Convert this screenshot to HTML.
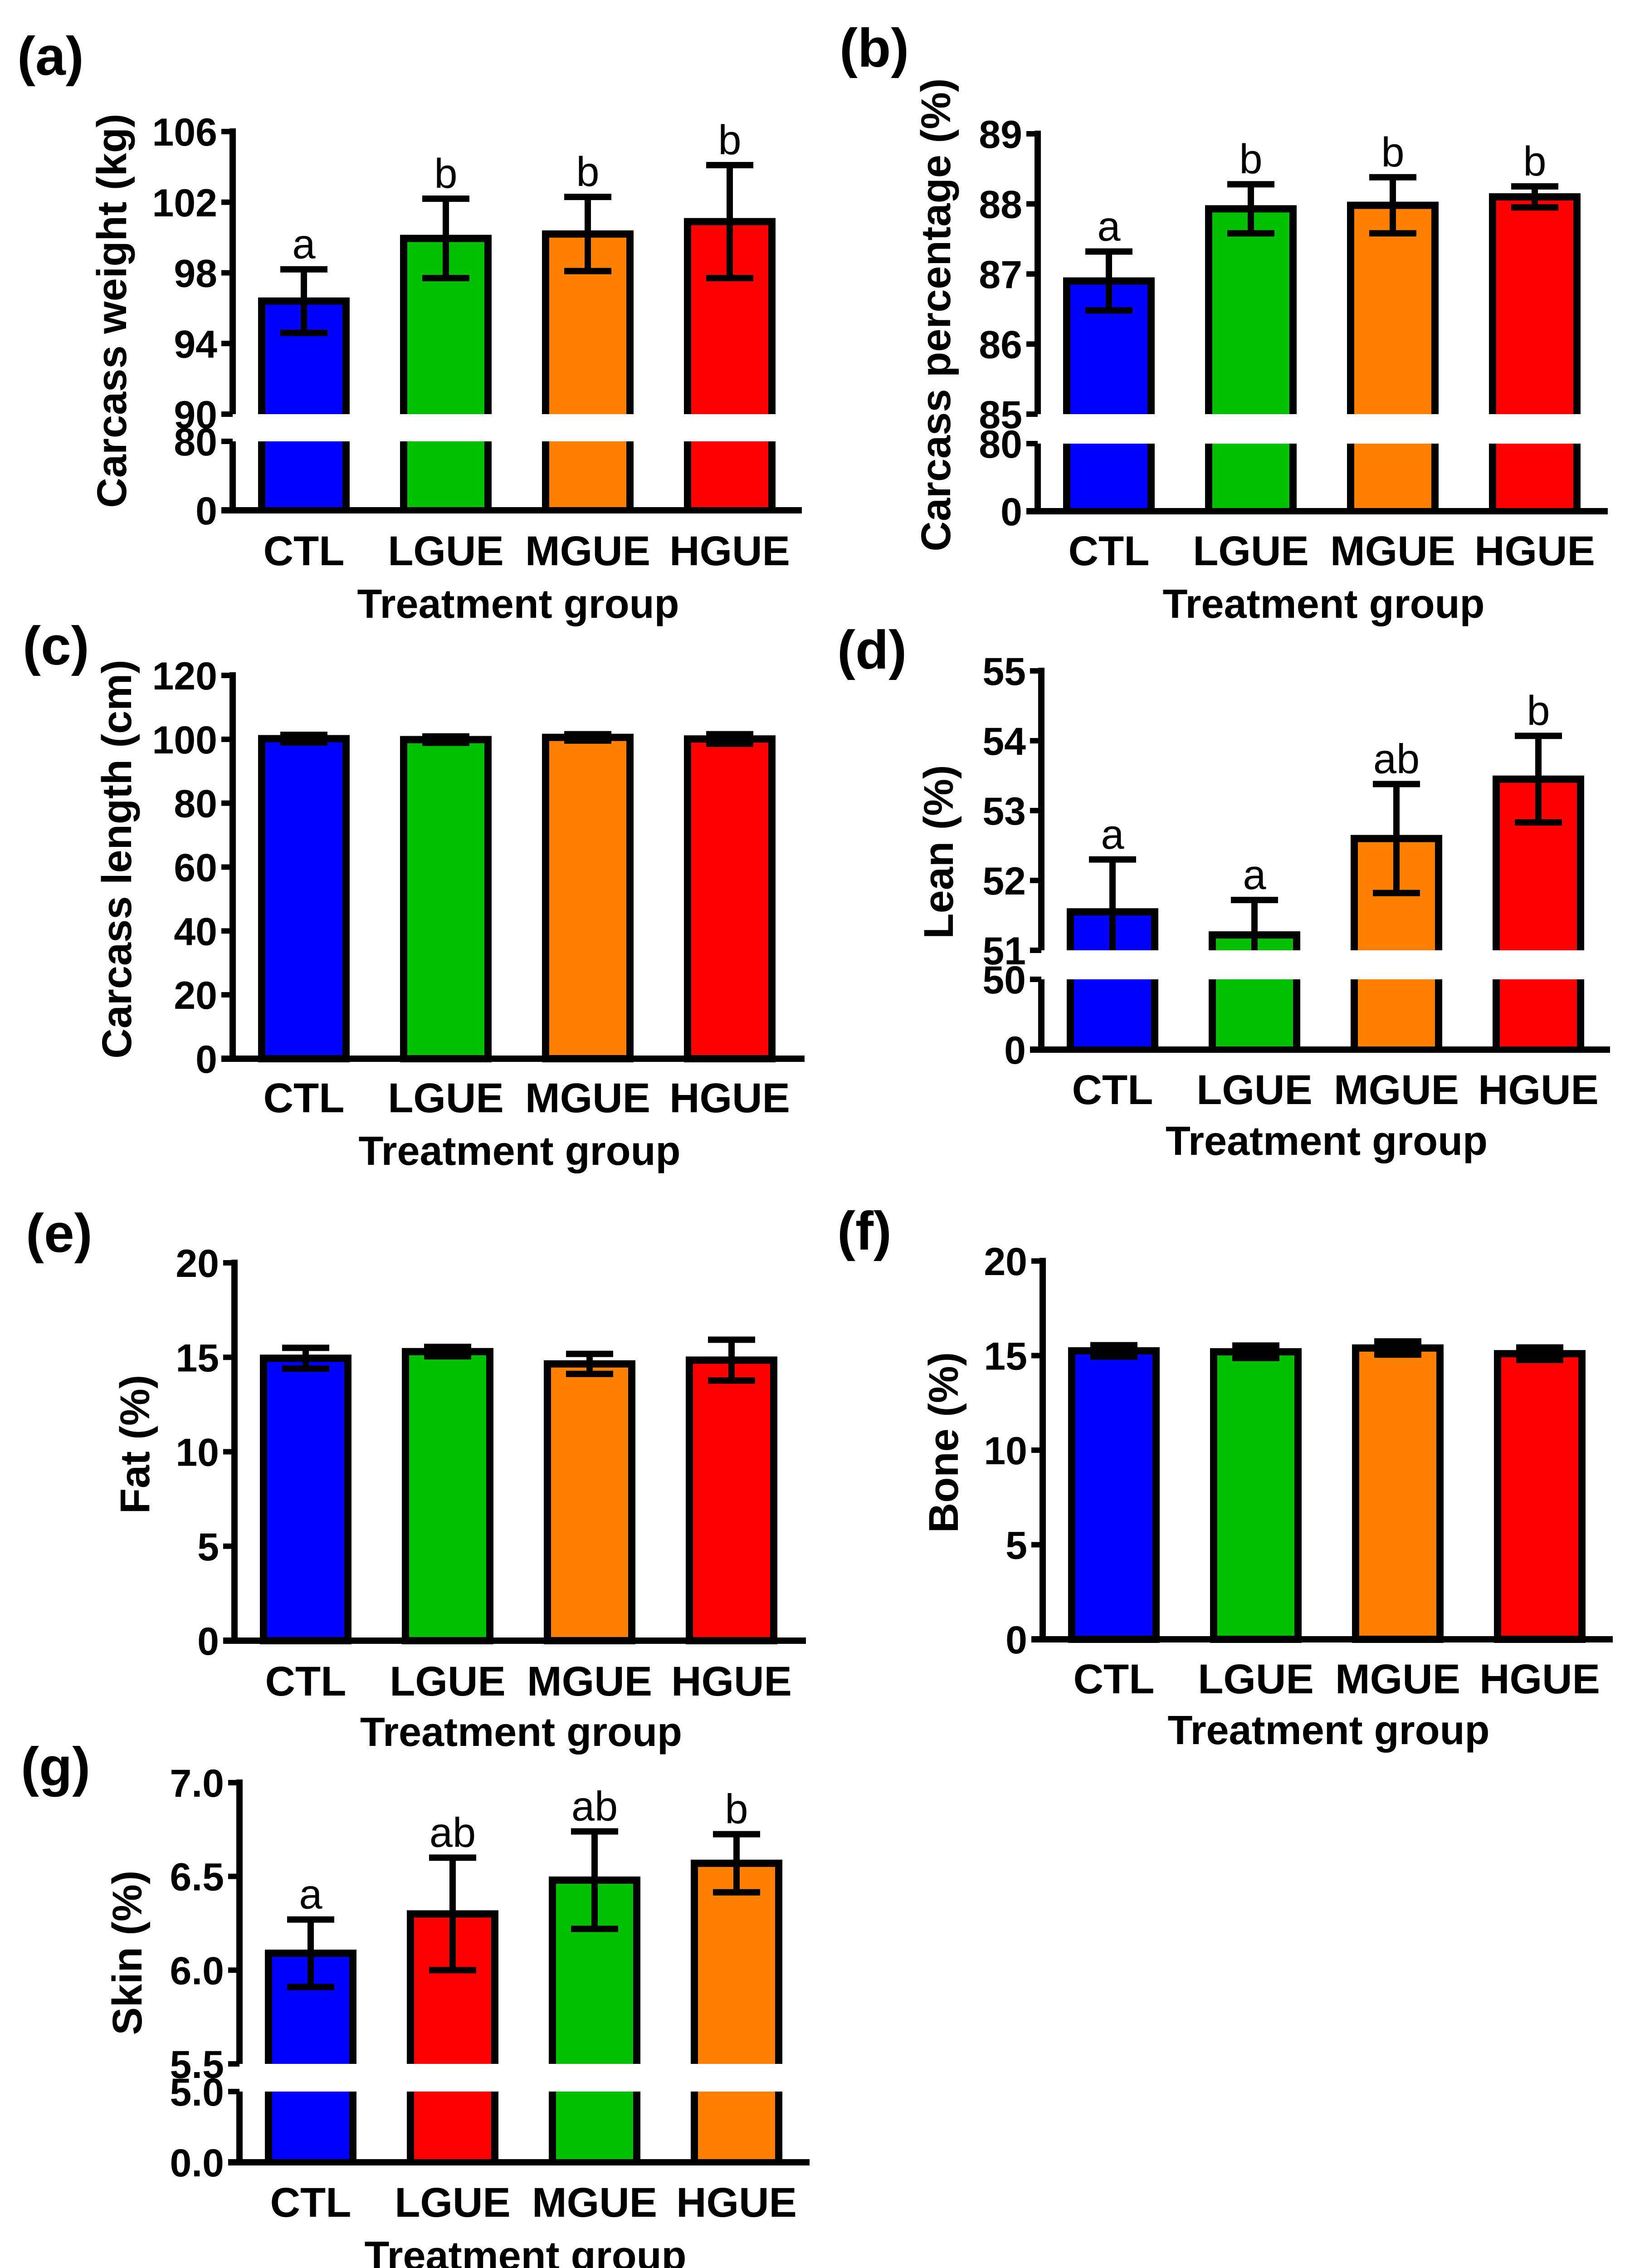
<!DOCTYPE html>
<html><head><meta charset="utf-8"><style>
html,body{margin:0;padding:0;background:#fff;width:3594px;height:5072px;overflow:hidden}
svg{display:block}
text{font-family:"Liberation Sans",Arial,sans-serif}
</style></head><body>
<svg id="fig" xmlns="http://www.w3.org/2000/svg" width="3594" height="5072" viewBox="0 0 3594 5072" overflow="hidden"></svg>
<script>
const categories = ['CTL','LGUE','MGUE','HGUE'];
const colorsStd = ['#0000ff','#00c000','#ff8000','#ff0000'];
const colorsG = ['#0000ff','#ff0000','#00c000','#ff8000'];

const valuesA = [96.4, 99.95, 100.2, 100.9];
const semA = [1.8, 2.25, 2.1, 3.2];
const lettersA = ['a','b','b','b'];
const ticksUpperA = [90, 94, 98, 102, 106];
const ticksLowerA = [0, 80];

const valuesB = [86.9, 87.93, 87.98, 88.1];
const semB = [0.42, 0.35, 0.4, 0.15];
const lettersB = ['a','b','b','b'];
const ticksUpperB = [85, 86, 87, 88, 89];
const ticksLowerB = [0, 80];

const valuesC = [100.2, 99.9, 100.6, 100.1];
const semC = [1.2, 1.0, 1.0, 1.5];
const ticksC = [0, 20, 40, 60, 80, 100, 120];

const valuesD = [51.55, 51.22, 52.6, 53.45];
const semD = [0.75, 0.5, 0.78, 0.62];
const lettersD = ['a','a','ab','b'];
const ticksUpperD = [51, 52, 53, 54, 55];
const ticksLowerD = [0, 50];

const valuesE = [14.95, 15.3, 14.65, 14.85];
const semE = [0.55, 0.25, 0.53, 1.08];
const ticksE = [0, 5, 10, 15, 20];

const valuesF = [15.25, 15.2, 15.4, 15.1];
const semF = [0.3, 0.33, 0.35, 0.33];
const ticksF = [0, 5, 10, 15, 20];

const valuesG = [6.09, 6.3, 6.48, 6.57];
const semG = [0.18, 0.3, 0.26, 0.155];
const lettersG = ['a','ab','ab','b'];
const ticksUpperG = [5.5, 6.0, 6.5, 7.0];
const ticksLowerG = [0, 5.0];

const NS = 'http://www.w3.org/2000/svg';
const fig = document.getElementById('fig');
function mk(tag, attrs, parent){
  const e = document.createElementNS(NS, tag);
  for (const k in attrs) e.setAttribute(k, attrs[k]);
  (parent||fig).appendChild(e);
  return e;
}

function panel(cfg){
  const g = mk('g', {});
  
  
  const hasBreak = cfg.brkHi !== undefined;
  function y(v){
    if (!hasBreak) return cfg.y0 - (v - 0) / (cfg.top - 0) * (cfg.y0 - cfg.yTop);
    if (v >= cfg.brkHi) return cfg.yBU - (v - cfg.brkHi) / (cfg.top - cfg.brkHi) * (cfg.yBU - cfg.yTop);
    return cfg.y0 - v / cfg.brkLo * (cfg.y0 - cfg.yBL);
  }
  const lw = 14, bw = 186;
  const pl = mk('text', {x: cfg.lx, y: cfg.ly, 'font-size': 120, 'font-weight': 'bold'}, g);
  pl.textContent = '(' + cfg.id + ')';
  
  
  cfg.values.forEach((v, i) => {
    const cx = cfg.ax + 157 + i * 313;
    const x0 = cx - bw/2, x1 = cx + bw/2;
    const yt = y(v);
    const col = cfg.colors[i];
    const bg = mk('g', {}, g);
    
    
    if (hasBreak){
      mk('rect', {x: x0, y: yt, width: bw, height: cfg.yBU - yt, fill: col}, bg);
      mk('path', {d: `M${x0},${cfg.yBU}V${yt}H${x1}V${cfg.yBU}`, fill: 'none', stroke: '#000', 'stroke-width': 16}, bg);
      mk('rect', {x: x0, y: cfg.yBL, width: bw, height: cfg.y0 - cfg.yBL, fill: col}, bg);
      mk('path', {d: `M${x0},${cfg.yBL}V${cfg.y0}M${x1},${cfg.yBL}V${cfg.y0}`, fill: 'none', stroke: '#000', 'stroke-width': 16}, bg);
    } else {
      mk('rect', {x: x0, y: yt, width: bw, height: cfg.y0 - yt, fill: col, stroke: '#000', 'stroke-width': 16}, bg);
    }
    const hi = y(v + cfg.sem[i]);
    let lo = y(Math.max(v - cfg.sem[i], hasBreak ? cfg.brkHi : 0));
    const eb = mk('g', {}, g);
    
    
    let d = `M${cx},${hi}V${lo}M${cx-52},${hi}H${cx+52}`;
    if (!(hasBreak && v - cfg.sem[i] < cfg.brkHi)) d += `M${cx-52},${lo}H${cx+52}`;
    mk('path', {d: d, stroke: '#000', 'stroke-width': lw, fill: 'none'}, eb);
    if (cfg.letters){
      const t = mk('text', {x: cx, y: hi - 24, 'font-size': 92, 'text-anchor': 'middle'}, g);
      t.textContent = cfg.letters[i];
      
      
    }
    const cl = mk('text', {x: cx, y: cfg.catY, 'font-size': 92, 'font-weight': 'bold', 'text-anchor': 'middle'}, g);
    cl.textContent = categories[i];
    
    
  });
  const axg = mk('g', {}, g);
  
  
  if (hasBreak){
    mk('path', {d: `M${cfg.ax},${cfg.yTop-7}V${cfg.yBU}M${cfg.ax},${cfg.yBL}V${cfg.y0}`, stroke: '#000', 'stroke-width': lw}, axg);
  } else {
    mk('path', {d: `M${cfg.ax},${cfg.yTop-7}V${cfg.y0}`, stroke: '#000', 'stroke-width': lw}, axg);
  }
  const xa = mk('path', {d: `M${cfg.ax-25},${cfg.y0}H${cfg.xEnd}`, stroke: '#000', 'stroke-width': lw}, g);
  
  
  cfg.ticks.forEach((tv, k) => {
    const ty = y(tv);
    mk('path', {d: `M${cfg.ax-25},${ty}H${cfg.ax}`, stroke: '#000', 'stroke-width': 12}, axg);
    const t = mk('text', {x: cfg.ax - 34, y: ty + 31, 'font-size': 86, 'font-weight': 'bold', 'text-anchor': 'end'}, axg);
    t.textContent = cfg.tickFmt ? tv.toFixed(1) : String(tv);
    
    
  });
  const yt = mk('text', {x: 0, y: 0, 'font-size': 92, 'font-weight': 'bold', 'text-anchor': 'middle', 'dominant-baseline': 'central', transform: `translate(${cfg.tx},${cfg.tcy}) rotate(-90)`}, g);
  yt.textContent = cfg.ytitle;
  
  
  const xt = mk('text', {x: (cfg.ax + cfg.xEnd)/2 + 2, y: cfg.titleY, 'font-size': 90, 'font-weight': 'bold', 'text-anchor': 'middle'}, g);
  xt.textContent = 'Treatment group';
  
  
}

panel({id:'a', values: valuesA, sem: semA, letters: lettersA, colors: colorsStd,
  ticks: ticksUpperA.concat(ticksLowerA), top: 106, brkHi: 90, brkLo: 80,
  ax: 513, yTop: 290, yBU: 913, yBL: 973, y0: 1125, xEnd: 1768,
  lx: 38, ly: 165, tx: 247, tcy: 685, catY: 1246, titleY: 1362, ytitle: 'Carcass weight (kg)'});
panel({id:'b', values: valuesB, sem: semB, letters: lettersB, colors: colorsStd,
  ticks: ticksUpperB.concat(ticksLowerB), top: 89, brkHi: 85, brkLo: 80,
  ax: 2288, yTop: 295, yBU: 913, yBL: 978, y0: 1127, xEnd: 3545,
  lx: 1851, ly: 147, tx: 2064, tcy: 694, catY: 1246, titleY: 1362, ytitle: 'Carcass percentage (%)'});
panel({id:'c', values: valuesC, sem: semC, colors: colorsStd,
  ticks: ticksC, top: 120, ax: 513, yTop: 1489, y0: 2334, xEnd: 1774,
  lx: 50, ly: 1465, tx: 258, tcy: 1894, catY: 2452, titleY: 2568, ytitle: 'Carcass length (cm)'});
panel({id:'d', values: valuesD, sem: semD, letters: lettersD, colors: colorsStd,
  ticks: ticksUpperD.concat(ticksLowerD), top: 55, brkHi: 51, brkLo: 50,
  ax: 2296, yTop: 1479, yBU: 2095, yBL: 2159, y0: 2314, xEnd: 3550,
  lx: 1846, ly: 1474, tx: 2070, tcy: 1878, catY: 2434, titleY: 2546, ytitle: 'Lean (%)'});
panel({id:'e', values: valuesE, sem: semE, colors: colorsStd,
  ticks: ticksE, top: 20, ax: 517, yTop: 2784, y0: 3617, xEnd: 1777,
  lx: 57, ly: 2760, tx: 298, tcy: 3184, catY: 3738, titleY: 3849, ytitle: 'Fat (%)'});
panel({id:'f', values: valuesF, sem: semF, colors: colorsStd,
  ticks: ticksF, top: 20, ax: 2299, yTop: 2780, y0: 3614, xEnd: 3556,
  lx: 1846, ly: 2755, tx: 2081, tcy: 3180, catY: 3733, titleY: 3845, ytitle: 'Bone (%)'});
panel({id:'g', values: valuesG, sem: semG, letters: lettersG, colors: colorsG, tickFmt: true,
  ticks: ticksUpperG.concat(ticksLowerG), top: 7.0, brkHi: 5.5, brkLo: 5.0,
  ax: 528, yTop: 3930, yBU: 4550, yBL: 4611, y0: 4767, xEnd: 1785,
  lx: 46, ly: 3936, tx: 281, tcy: 4305, catY: 4887, titleY: 5004, ytitle: 'Skin (%)'});
</script>
</body></html>
